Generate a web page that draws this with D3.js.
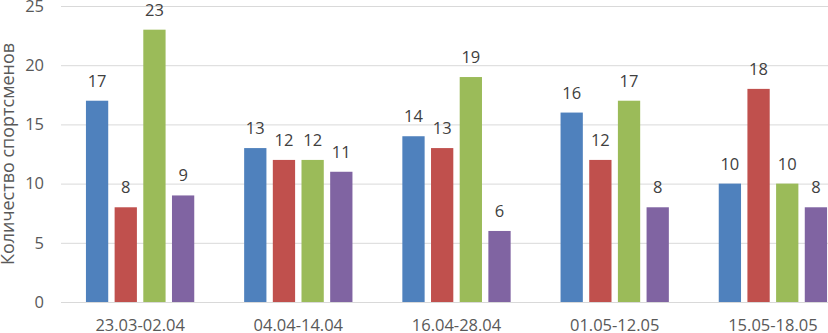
<!DOCTYPE html>
<html>
<head>
<meta charset="utf-8">
<script src="https://cdn.jsdelivr.net/npm/d3@7"></script>
<style>
  body { margin: 0; background: #fff; }
  #chart svg { display: block; overflow: hidden; font-family: "Open Sans", sans-serif; }
</style>
</head>
<body>
<div id="chart"></div>
<script>
/* Grouped bars: athletes per period */

const periods = ["23.03-02.04", "04.04-14.04", "16.04-28.04", "01.05-12.05", "15.05-18.05"];
const seriesNames = ["s1", "s2", "s3", "s4"];
const blue   = [17, 13, 14, 16, 10];
const red    = [8, 12, 13, 12, 18];
const green  = [23, 12, 19, 17, 10];
const purple = [9, 11, 6, 8, 8];
const yTicks = [0, 5, 10, 15, 20, 25];
const yTitle = "Количество спортсменов";

const colors = ["#4f81bd", "#c0504d", "#9bbb59", "#8064a2"];

const height = 333,
    width = 828,
    margin = ({top: 6, right: -24, bottom: 31, left: 61});

const values = [blue, red, green, purple];
const rows = periods.map((p, i) => ({period: p, vals: values.map(v => v[i])}));

let svg = d3.select("#chart")
    .append("svg")
    .attr("width", width)
    .attr("height", height);

let x = d3.scaleBand()
    .domain(periods)
    .range([margin.left, width - margin.right])
    .padding(0);

let x1 = d3.scaleBand()
    .domain(seriesNames)
    .range([0, x.bandwidth()])
    .paddingInner(0.223)
    .paddingOuter(0.87);

let y = d3.scaleLinear()
    .domain([0, 25])
    .range([height - margin.bottom, margin.top]);

// gridlines
svg.append("g")
    .call(d3.axisLeft(y).tickValues(yTicks).tickSize(-(width - margin.right - margin.left)).tickFormat(""))
    .attr("transform", `translate(${margin.left},0)`)
    .call(g => g.select(".domain").remove())
    .call(g => g.selectAll("line").attr("stroke", "#d9d9d9").attr("stroke-width", 1));

// y labels
svg.append("g")
    .attr("transform", `translate(${margin.left - 17},0)`)
    .call(d3.axisLeft(y).tickValues(yTicks).tickSize(0).tickPadding(0))
    .call(g => g.select(".domain").remove())
    .call(g => g.selectAll("text")
        .attr("fill", "#595959")
        .style("font-size", "16.5px")
        .style("font-family", "'Open Sans', sans-serif"));

// x labels
svg.append("g")
    .attr("transform", `translate(0,${height - margin.bottom})`)
    .call(d3.axisBottom(x).tickSize(0).tickPadding(17))
    .call(g => g.select(".domain").remove())
    .call(g => g.selectAll("text")
        .attr("fill", "#595959")
        .style("font-size", "16.5px")
        .style("font-family", "'Open Sans', sans-serif"));

// y title
svg.append("text")
    .attr("transform", `translate(14,${(y(0) + y(25)) / 2}) rotate(-90)`)
    .attr("text-anchor", "middle")
    .attr("fill", "#595959")
    .style("font-size", "18px")
    .text(yTitle);

let group = svg.selectAll(".grp")
    .data(rows)
    .join("g")
    .attr("class", "grp")
    .attr("transform", d => `translate(${x(d.period)},0)`);

let bar = group.selectAll(".bar")
    .data(d => d.vals.map((v, j) => ({key: seriesNames[j], v, j})))
    .join("g")
    .attr("class", "bar");

bar.append("rect")
    .attr("fill", d => colors[d.j])
    .attr("x", d => x1(d.key))
    .attr("width", x1.bandwidth())
    .attr("y", d => y(d.v))
    .attr("height", d => y(0) - y(d.v));

bar.append("text")
    .attr("x", d => x1(d.key) + x1.bandwidth() / 2)
    .attr("y", d => y(d.v) - 14)
    .attr("text-anchor", "middle")
    .attr("fill", "#404040")
    .style("font-size", "16.5px")
    .text(d => d.v);
</script>
</body>
</html>
